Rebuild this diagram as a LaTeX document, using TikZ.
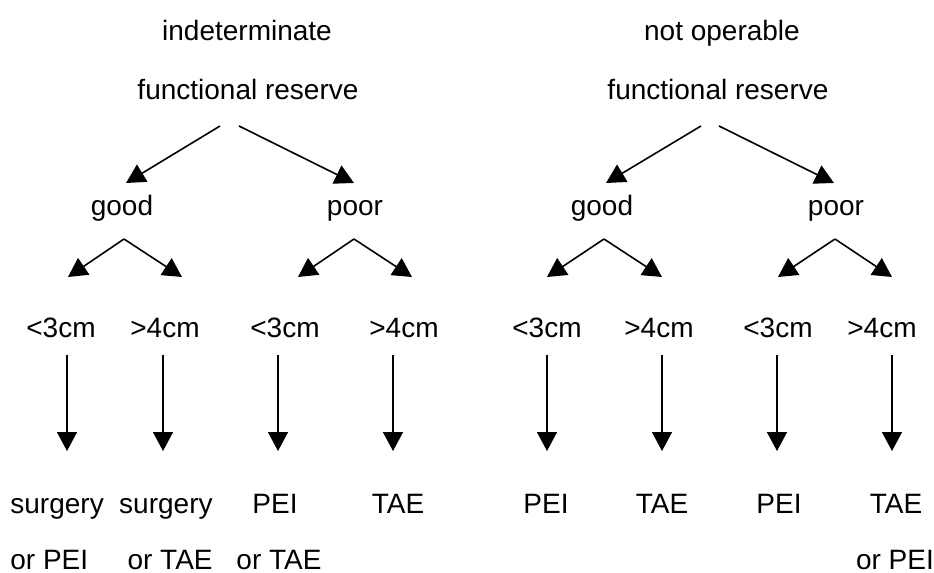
\documentclass[tikz,border=0pt]{standalone}
\usepackage{fontspec}
\setmainfont{Liberation Sans}
\usetikzlibrary{arrows.meta}
\begin{document}
\begin{tikzpicture}[x=0.5pt,y=-0.5pt,
  lbl/.style={font=\fontsize{14pt}{16pt}\selectfont,inner sep=0pt,anchor=base},
  arr/.style={line width=0.8pt,-{Triangle[length=9.5pt,width=10pt]}}]
\useasboundingbox (0,0) rectangle (934,573);
% left tree
\node[lbl] (ind) at (247,40) {indeterminate};
\node[lbl] (frL) at (248,99) {functional reserve};
\node[lbl] (goodL) at (122,215) {good};
\node[lbl] (poorL) at (355,215) {poor};
\node[lbl] (c1) at (61,337) {<3cm};
\node[lbl] (c2) at (165,337) {>4cm};
\node[lbl] (c3) at (285,337) {<3cm};
\node[lbl] (c4) at (404,337) {>4cm};
\node[lbl,anchor=base west] (t1) at (10,513) {surgery};
\node[lbl,anchor=base west] (t1b) at (10,569) {or PEI};
\node[lbl,anchor=base east] (t2) at (213,513) {surgery};
\node[lbl,anchor=base east] (t2b) at (213,569) {or TAE};
\node[lbl] (t3) at (275,513) {PEI};
\node[lbl] (t3b) at (279,569) {or TAE};
\node[lbl] (t4) at (398,513) {TAE};
% right tree
\node[lbl] (nop) at (722,40) {not operable};
\node[lbl] (frR) at (718,99) {functional reserve};
\node[lbl] (goodR) at (602,215) {good};
\node[lbl] (poorR) at (836,215) {poor};
\node[lbl] (c5) at (547,337) {<3cm};
\node[lbl] (c6) at (659,337) {>4cm};
\node[lbl] (c7) at (778,337) {<3cm};
\node[lbl] (c8) at (882,337) {>4cm};
\node[lbl] (t5) at (546,513) {PEI};
\node[lbl] (t6) at (662,513) {TAE};
\node[lbl] (t7) at (779,513) {PEI};
\node[lbl] (t8) at (896,513) {TAE};
\node[lbl] (t8b) at (895,569) {or PEI};
% connector coordinates
\coordinate (frLa) at (220,126); \coordinate (frLb) at (239,126);
\coordinate (gLa) at (126,183); \coordinate (pLa) at (354,183);
\coordinate (gLs) at (124,239); \coordinate (pLs) at (354,239);
\coordinate (u1) at (68,277); \coordinate (u2) at (182,277);
\coordinate (u3) at (298,277); \coordinate (u4) at (412,277);
\coordinate (frRa) at (701,126); \coordinate (frRb) at (719,126);
\coordinate (gRa) at (606,183); \coordinate (pRa) at (834,183);
\coordinate (gRs) at (604,239); \coordinate (pRs) at (835,239);
\coordinate (u5) at (547,277); \coordinate (u6) at (662,277);
\coordinate (u7) at (778,277); \coordinate (u8) at (892,277);
\foreach \i/\x in {1/67,2/163,3/278,4/393,5/547,6/662,7/777,8/892}{
  \coordinate (v\i s) at (\x,355);
  \coordinate (v\i e) at (\x,451);
}
\draw[arr] (frLa) -- (gLa);
\draw[arr] (frLb) -- (pLa);
\draw[arr] (gLs) -- (u1);
\draw[arr] (gLs) -- (u2);
\draw[arr] (pLs) -- (u3);
\draw[arr] (pLs) -- (u4);
\draw[arr] (frRa) -- (gRa);
\draw[arr] (frRb) -- (pRa);
\draw[arr] (gRs) -- (u5);
\draw[arr] (gRs) -- (u6);
\draw[arr] (pRs) -- (u7);
\draw[arr] (pRs) -- (u8);
\foreach \i in {1,...,8}{\draw[arr] (v\i s) -- (v\i e);}
\end{tikzpicture}
\end{document}
